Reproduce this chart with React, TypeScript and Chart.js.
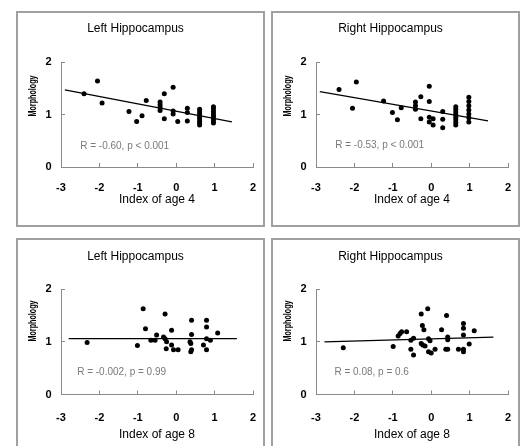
import React, { useEffect, useRef } from "react";
import { Chart, registerables } from "chart.js";

Chart.register(...registerables);
Chart.defaults.font.family = "'Liberation Sans', Arial, sans-serif";

// ---- data ----
const leftAge4X = [-2.4, -2.05, -1.93, -1.23, -1.03, -0.89, -0.78, -0.42, -0.42, -0.42, -0.42, -0.31, -0.31, -0.08, -0.08, -0.08, 0.04, 0.29, 0.29, 0.29, 0.61, 0.61, 0.61, 0.61, 0.61, 0.61, 0.61, 0.61, 0.97, 0.97, 0.97, 0.97, 0.97, 0.97, 0.97, 0.97];
const leftAge4Y = [1.4, 1.64, 1.22, 1.06, 0.87, 0.98, 1.27, 1.24, 1.19, 1.14, 1.08, 1.4, 0.92, 1.52, 1.07, 1.01, 0.87, 1.12, 1.04, 0.88, 1.1, 1.05, 1.0, 0.96, 0.92, 0.88, 0.84, 0.8, 1.15, 1.11, 1.06, 1.01, 0.97, 0.92, 0.88, 0.84];
const leftAge4FitX = [-2.9, 1.45];
const leftAge4FitY = [1.47, 0.86];

const rightAge4X = [-2.4, -1.95, -2.05, -1.24, -1.01, -0.88, -0.78, -0.41, -0.41, -0.41, -0.27, -0.27, -0.05, -0.05, -0.05, -0.05, 0.05, 0.05, 0.3, 0.3, 0.3, 0.64, 0.64, 0.64, 0.64, 0.64, 0.64, 0.64, 0.64, 0.98, 0.98, 0.98, 0.98, 0.98, 0.98, 0.98];
const rightAge4Y = [1.48, 1.62, 1.12, 1.26, 1.04, 0.9, 1.13, 1.24, 1.17, 1.1, 1.34, 0.92, 1.54, 1.25, 0.95, 0.86, 0.92, 0.8, 1.06, 0.91, 0.75, 1.15, 1.1, 1.05, 1.0, 0.95, 0.9, 0.85, 0.8, 1.33, 1.25, 1.17, 1.09, 1.01, 0.94, 0.86];
const rightAge4FitX = [-2.9, 1.48];
const rightAge4FitY = [1.44, 0.88];

const leftAge8X = [-2.32, -1.01, -0.86, -0.8, -0.66, -0.55, -0.51, -0.29, -0.33, -0.29, -0.25, -0.26, -0.12, -0.12, -0.07, 0.05, 0.36, 0.4, 0.4, 0.4, 0.38, 0.38, 0.71, 0.79, 0.79, 0.79, 0.79, 0.89, 1.08];
const leftAge8Y = [0.99, 0.93, 1.63, 1.25, 1.03, 1.03, 1.13, 1.53, 1.09, 1.06, 1.0, 0.87, 1.22, 0.94, 0.85, 0.85, 1.0, 0.85, 1.14, 1.41, 0.97, 0.81, 0.94, 1.41, 1.28, 1.06, 0.85, 1.03, 1.17];
const leftAge8FitX = [-2.8, 1.58];
const leftAge8FitY = [1.06, 1.06];

const rightAge8X = [-2.29, -0.99, -0.86, -0.81, -0.77, -0.64, -0.53, -0.53, -0.46, -0.46, -0.26, -0.23, -0.19, -0.26, -0.22, -0.16, -0.09, -0.07, -0.03, -0.07, 0.0, 0.1, 0.27, 0.4, 0.43, 0.43, 0.38, 0.43, 0.71, 0.84, 0.84, 0.84, 0.84, 0.84, 0.99, 1.12];
const rightAge8Y = [0.89, 0.91, 1.11, 1.16, 1.19, 1.19, 1.03, 0.86, 1.07, 0.75, 1.53, 1.31, 1.23, 0.97, 0.94, 0.92, 1.63, 1.06, 1.02, 0.81, 0.79, 0.86, 1.23, 1.5, 1.09, 1.04, 0.86, 0.86, 0.86, 1.35, 1.26, 1.13, 0.86, 0.81, 0.96, 1.21];
const rightAge8FitX = [-2.78, 1.62];
const rightAge8FitY = [1.0, 1.09];

const xTicks = [-3, -2, -1, 0, 1, 2];
const yTicks = [0, 1, 2];

const zip = (xs: number[], ys: number[]) => xs.map((x, i) => ({ x, y: ys[i] }));

type PanelCfg = {
  left: number;
  top: number;
  lower: boolean;
  title: string;
  xTitle: string;
  xs: number[];
  ys: number[];
  fitX: number[];
  fitY: number[];
  note: string;
  noteX: number;
  noteY: number;
};

const panels: PanelCfg[] = [
  { left: 16, top: 11, lower: false, title: "Left Hippocampus", xTitle: "Index of age 4", xs: leftAge4X, ys: leftAge4Y, fitX: leftAge4FitX, fitY: leftAge4FitY, note: "R = -0.60, p < 0.001", noteX: -2.5, noteY: 0.39 },
  { left: 271, top: 11, lower: false, title: "Right Hippocampus", xTitle: "Index of age 4", xs: rightAge4X, ys: rightAge4Y, fitX: rightAge4FitX, fitY: rightAge4FitY, note: "R = -0.53, p < 0.001", noteX: -2.5, noteY: 0.41 },
  { left: 16, top: 238, lower: true, title: "Left Hippocampus", xTitle: "Index of age 8", xs: leftAge8X, ys: leftAge8Y, fitX: leftAge8FitX, fitY: leftAge8FitY, note: "R = -0.002, p = 0.99", noteX: -2.58, noteY: 0.43 },
  { left: 271, top: 238, lower: true, title: "Right Hippocampus", xTitle: "Index of age 8", xs: rightAge8X, ys: rightAge8Y, fitX: rightAge8FitX, fitY: rightAge8FitY, note: "R = 0.08, p = 0.6", noteX: -2.52, noteY: 0.43 },
];

const FONT = "'Liberation Sans', Arial, sans-serif";

const extrasPlugin = {
  id: "extras",
  afterDraw(chart: any, _args: any, opts: any) {
    const ctx = chart.ctx;
    const xs = chart.scales.x;
    const ys = chart.scales.y;
    // annotation text
    ctx.save();
    ctx.font = `10px ${FONT}`;
    ctx.fillStyle = "#7a7a7a";
    ctx.textAlign = "left";
    ctx.textBaseline = "middle";
    ctx.fillText(opts.note, xs.getPixelForValue(opts.noteX), ys.getPixelForValue(opts.noteY));
    ctx.restore();
    // y axis title (condensed, as in the reference)
    ctx.save();
    ctx.font = `bold 11px ${FONT}`;
    const w = ctx.measureText(opts.yTitle).width;
    ctx.translate(15, opts.yTitleY);
    ctx.rotate(-Math.PI / 2);
    ctx.scale(41 / w, 1);
    ctx.fillStyle = "#000";
    ctx.textAlign = "center";
    ctx.textBaseline = "middle";
    ctx.fillText(opts.yTitle, 0, 0);
    ctx.restore();
  },
};

function Panel({ cfg }: { cfg: PanelCfg }) {
  const ref = useRef<HTMLCanvasElement>(null);
  useEffect(() => {
    if (!ref.current) return;
    const lo = cfg.lower;
    const chart = new Chart(ref.current, {
      type: "scatter",
      data: {
        datasets: [
          {
            data: zip(cfg.xs, cfg.ys),
            pointRadius: 2.5,
            pointBackgroundColor: "#000",
            pointBorderWidth: 0,
            borderColor: "#000",
            backgroundColor: "#000",
          },
          {
            data: zip(cfg.fitX, cfg.fitY),
            showLine: true,
            pointRadius: 0,
            borderColor: "#000",
            borderWidth: 1.3,
            fill: false,
          },
        ],
      },
      options: {
        responsive: false,
        animation: false,
        events: [],
        layout: { padding: { left: 0, right: 10, top: 0, bottom: 0 } },
        plugins: {
          legend: { display: false },
          tooltip: { enabled: false },
          title: {
            display: true,
            text: cfg.title,
            color: "#000",
            font: { size: 12, weight: "normal", family: FONT },
            padding: lo ? { top: 9.6, bottom: 25.2 } : { top: 8.4, bottom: 26.4 },
          },
          extras: { note: cfg.note, noteX: cfg.noteX, noteY: cfg.noteY, yTitle: "Morphology", yTitleY: lo ? 81 : 83 },
        } as any,
        scales: {
          x: {
            type: "linear",
            min: xTicks[0],
            max: xTicks[xTicks.length - 1],
            afterBuildTicks: (s: any) => {
              s.ticks = xTicks.map((v) => ({ value: v }));
            },
            ticks: { color: "#000", font: { size: 11, weight: "bold" }, padding: lo ? 20.5 : 18 },
            grid: { drawOnChartArea: false, tickLength: -4, color: "#8a8a8a", lineWidth: 1 },
            border: { color: "#8a8a8a", width: 1 },
            title: {
              display: true,
              text: cfg.xTitle,
              color: "#000",
              font: { size: 12, family: FONT },
              padding: { top: 0, bottom: lo ? 10.3 : 17.8 },
            },
            afterFit: (s: any) => {
              s.height = lo ? 57.5 : 58;
              s.paddingLeft = 0;
              s.paddingRight = 0;
            },
          },
          y: {
            type: "linear",
            min: yTicks[0],
            max: yTicks[yTicks.length - 1],
            afterBuildTicks: (s: any) => {
              s.ticks = yTicks.map((v) => ({ value: v }));
            },
            ticks: { color: "#000", font: { size: 11, weight: "bold" }, padding: 13.5 },
            grid: { drawOnChartArea: false, tickLength: -4, color: "#8a8a8a", lineWidth: 1 },
            border: { color: "#8a8a8a", width: 1 },
            afterFit: (s: any) => {
              s.width = 43;
            },
          },
        },
      } as any,
      plugins: [extrasPlugin],
    });
    return () => chart.destroy();
  }, [cfg]);
  return (
    <div
      style={{
        position: "absolute",
        left: cfg.left,
        top: cfg.top,
        width: 245,
        height: 212,
        border: "2px solid #a0a0a0",
        background: "#fff",
      }}
    >
      <canvas ref={ref} width={245} height={212} style={{ display: "block", width: 245, height: 212 }} />
    </div>
  );
}

export default function App() {
  return (
    <div
      style={{
        position: "fixed",
        left: 0,
        top: 0,
        width: 522,
        height: 446,
        overflow: "hidden",
        background: "#fff",
      }}
    >
      {panels.map((p, i) => (
        <Panel key={i} cfg={p} />
      ))}
    </div>
  );
}
